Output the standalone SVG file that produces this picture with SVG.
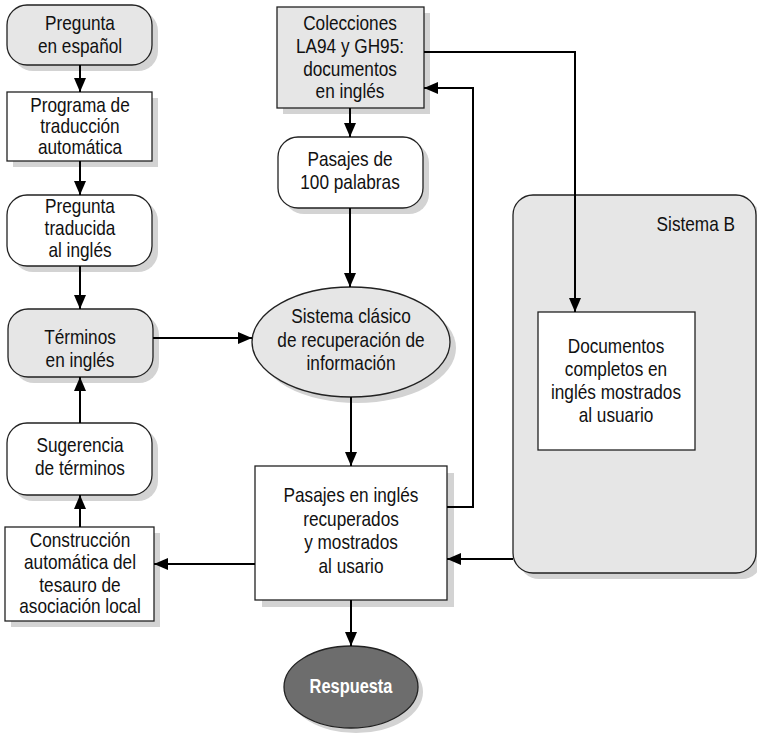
<svg xmlns="http://www.w3.org/2000/svg" width="757" height="738" viewBox="0 0 757 738">
<defs>
<style>
.t{font-family:"Liberation Sans",Arial,sans-serif;font-size:21px;fill:#111;text-anchor:middle}
.b{font-weight:bold;fill:#fff;font-size:20px}
.sh{fill:#d3d3d3;stroke:none}
.g{fill:#e6e6e6;stroke:#222;stroke-width:1.3}
.w{fill:#fff;stroke:#222;stroke-width:1.3}
.c{fill:none;stroke:#000;stroke-width:2}
</style>
<marker id="ah" markerWidth="14" markerHeight="12" refX="14" refY="6" orient="auto" markerUnits="userSpaceOnUse"><path d="M0,0 L14,6 L0,12 Z" fill="#000"/></marker>
</defs>
<rect width="757" height="738" fill="#fff"/>
<g id="sistemaB">
<rect class="sh" x="519" y="201" width="243" height="378" rx="20"/>
<rect class="g" x="513" y="195" width="243" height="378" rx="20"/>
<text class="t" transform="matrix(0.82 0 0 1 735 231)" style="text-anchor:end">Sistema B</text>
</g>
<g id="n1">
<rect class="sh" x="13" y="11" width="145" height="60" rx="20"/>
<rect class="g" x="7" y="5" width="145" height="60" rx="20"/>
<text class="t" transform="matrix(0.82 0 0 1 80 30)">Pregunta</text>
<text class="t" transform="matrix(0.82 0 0 1 80 53)">en español</text>
</g>
<g id="n2">
<rect class="sh" x="13" y="98" width="145" height="69"/>
<rect class="w" x="7" y="92" width="145" height="69"/>
<text class="t" transform="matrix(0.82 0 0 1 80 112)">Programa de</text>
<text class="t" transform="matrix(0.82 0 0 1 80 133)">traducción</text>
<text class="t" transform="matrix(0.82 0 0 1 80 154)">automática</text>
</g>
<g id="n3">
<rect class="sh" x="13" y="201" width="145" height="71" rx="20"/>
<rect class="w" x="7" y="195" width="145" height="71" rx="20"/>
<text class="t" transform="matrix(0.82 0 0 1 80 213)">Pregunta</text>
<text class="t" transform="matrix(0.82 0 0 1 80 235)">traducida</text>
<text class="t" transform="matrix(0.82 0 0 1 80 257)">al inglés</text>
</g>
<g id="n4">
<rect class="sh" x="14" y="315" width="145" height="68" rx="20"/>
<rect class="g" x="8" y="309" width="145" height="68" rx="20"/>
<text class="t" transform="matrix(0.82 0 0 1 80 344)">Términos</text>
<text class="t" transform="matrix(0.82 0 0 1 80 367)">en inglés</text>
</g>
<g id="n5">
<rect class="sh" x="13" y="429" width="145" height="72" rx="20"/>
<rect class="w" x="7" y="423" width="145" height="72" rx="20"/>
<text class="t" transform="matrix(0.82 0 0 1 80 452)">Sugerencia</text>
<text class="t" transform="matrix(0.82 0 0 1 80 475)">de términos</text>
</g>
<g id="n6">
<rect class="sh" x="11" y="533" width="149" height="94"/>
<rect class="w" x="5" y="527" width="149" height="94"/>
<text class="t" transform="matrix(0.82 0 0 1 80 547)">Construcción</text>
<text class="t" transform="matrix(0.82 0 0 1 80 569)">automática del</text>
<text class="t" transform="matrix(0.82 0 0 1 80 592)">tesauro de</text>
<text class="t" transform="matrix(0.82 0 0 1 80 613)">asociación local</text>
</g>
<g id="colecciones">
<rect class="sh" x="283" y="13" width="147" height="101"/>
<rect class="g" x="277" y="7" width="147" height="101"/>
<text class="t" transform="matrix(0.82 0 0 1 350 30)">Colecciones</text>
<text class="t" transform="matrix(0.82 0 0 1 350 53)">LA94 y GH95:</text>
<text class="t" transform="matrix(0.82 0 0 1 350 76)">documentos</text>
<text class="t" transform="matrix(0.82 0 0 1 350 98)">en inglés</text>
</g>
<g id="pasajes100">
<rect class="sh" x="284" y="143" width="145" height="71" rx="20"/>
<rect class="w" x="278" y="137" width="145" height="71" rx="20"/>
<text class="t" transform="matrix(0.82 0 0 1 350 166)">Pasajes de</text>
<text class="t" transform="matrix(0.82 0 0 1 350 189)">100 palabras</text>
</g>
<g id="sistema">
<ellipse class="sh" cx="357" cy="348" rx="99" ry="55"/>
<ellipse class="g" cx="351" cy="342" rx="99" ry="55"/>
<text class="t" transform="matrix(0.82 0 0 1 351 323)">Sistema clásico</text>
<text class="t" transform="matrix(0.82 0 0 1 351 347)">de recuperación de</text>
<text class="t" transform="matrix(0.82 0 0 1 351 370)">información</text>
</g>
<g id="pasajesIngles">
<rect class="sh" x="262" y="473" width="192" height="134"/>
<rect class="w" x="255" y="466" width="192" height="134"/>
<text class="t" transform="matrix(0.82 0 0 1 351 502)">Pasajes en inglés</text>
<text class="t" transform="matrix(0.82 0 0 1 351 526)">recuperados</text>
<text class="t" transform="matrix(0.82 0 0 1 351 549)">y mostrados</text>
<text class="t" transform="matrix(0.82 0 0 1 351 573)">al usario</text>
</g>
<g id="respuesta">
<ellipse class="sh" cx="356" cy="692" rx="67" ry="41"/>
<ellipse cx="351" cy="687" rx="67" ry="41" fill="#6d6d6d" stroke="#222" stroke-width="1.3"/>
<text class="t b" transform="matrix(0.82 0 0 1 351 693)">Respuesta</text>
</g>
<g id="documentos">
<rect class="w" x="538" y="312" width="157" height="138"/>
<text class="t" transform="matrix(0.82 0 0 1 616 353)">Documentos</text>
<text class="t" transform="matrix(0.82 0 0 1 616 376)">completos en</text>
<text class="t" transform="matrix(0.82 0 0 1 616 399)">inglés mostrados</text>
<text class="t" transform="matrix(0.82 0 0 1 616 422)">al usuario</text>
</g>
<g id="connectors">
<path class="c" d="M80,65 V92" marker-end="url(#ah)"/>
<path class="c" d="M80,161 V195" marker-end="url(#ah)"/>
<path class="c" d="M80,266 V309" marker-end="url(#ah)"/>
<path class="c" d="M80,423 V377" marker-end="url(#ah)"/>
<path class="c" d="M80,527 V495" marker-end="url(#ah)"/>
<path class="c" d="M153,338 H252" marker-end="url(#ah)"/>
<path class="c" d="M255,564 H154" marker-end="url(#ah)"/>
<path class="c" d="M350,108 V137" marker-end="url(#ah)"/>
<path class="c" d="M350,208 V287" marker-end="url(#ah)"/>
<path class="c" d="M351,397 V466" marker-end="url(#ah)"/>
<path class="c" d="M351,600 V646" marker-end="url(#ah)"/>
<path class="c" d="M447,507 H473 V88 H424" marker-end="url(#ah)"/>
<path class="c" d="M424,52 H575 V312" marker-end="url(#ah)"/>
<path class="c" d="M513,559 H447" marker-end="url(#ah)"/>
</g>
</svg>
